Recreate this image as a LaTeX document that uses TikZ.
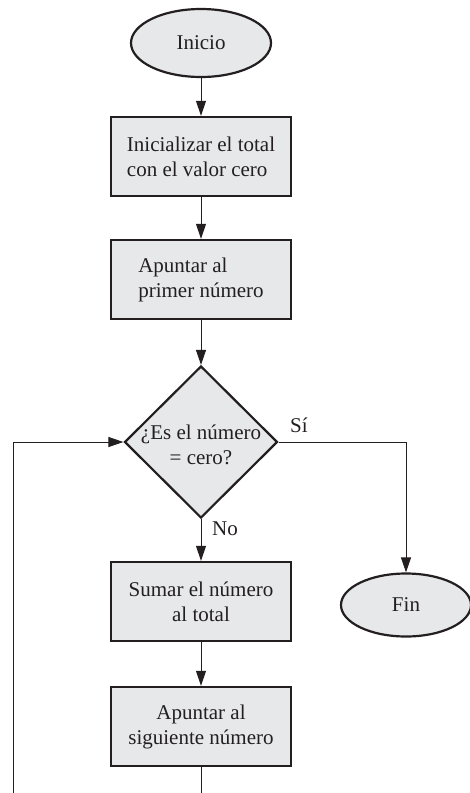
\documentclass[tikz,border=0pt]{standalone}
\usepackage{fontspec}
\setmainfont{Liberation Serif}
\usetikzlibrary{shapes.geometric,arrows.meta}
\definecolor{cajagris}{HTML}{E7E8EA}
\definecolor{borde}{HTML}{231F20}

\begin{document}
\begin{tikzpicture}[x=1pt, y=-1pt, >={Triangle[length=15pt,width=10pt]},
    every node/.style={font=\fontsize{21}{25}\selectfont, text=borde},
    caja/.style={draw=borde, line width=2.4pt, fill=cajagris, minimum width=180pt, minimum height=79pt, inner sep=0pt},
    terminal/.style={ellipse, draw=borde, line width=2.2pt, fill=cajagris, inner sep=0pt},
    rombo/.style={diamond, draw=borde, line width=2.2pt, fill=cajagris, minimum width=153pt, minimum height=152pt, inner sep=0pt},
    flecha/.style={draw=borde, line width=1pt}]
    \useasboundingbox (0,0) rectangle (469,793);

    % columna principal
    \node[terminal, minimum width=140pt, minimum height=68pt] (inicio) at (201,43) {Inicio};
    \node[caja, align=left] (caja1) at (201,156.5) {Inicializar el total\\con el valor cero};
    \node[caja, align=left] (caja2) at (201,279.5) {Apuntar al\\primer número};
    \node[rombo] (decision) at (201,442) {};
    \node[align=center] (pregunta) at (201,445) {¿Es el número\\= cero?};
    \node[caja, align=center] (caja3) at (201,601.5) {Sumar el número\\al total};
    \node[caja, align=center] (caja4) at (201,726.5) {Apuntar al\\siguiente número};
    \node[terminal, minimum width=130pt, minimum height=63pt] (fin) at (406,605) {Fin};

    % etiquetas
    \node (si) at (299,425) {Sí};
    \node (no) at (225,529) {No};

    % conectores
    \draw[flecha,->] (inicio.south) -- (caja1.north);
    \draw[flecha,->] (caja1.south) -- (caja2.north);
    \draw[flecha,->] (caja2.south) -- (decision.north);
    \draw[flecha,->] (decision.south) -- (caja3.north);
    \draw[flecha,->] (caja3.south) -- (caja4.north);
    \draw[flecha,->] (decision.east) -| (fin.north);

    % lazo de regreso
    \coordinate (abajo) at (201,793);
    \coordinate (izq) at (13,793);
    \draw[flecha] (caja4.south) -- (abajo);
    \draw[flecha,->] (izq) |- (decision.west);
\end{tikzpicture}
\end{document}
